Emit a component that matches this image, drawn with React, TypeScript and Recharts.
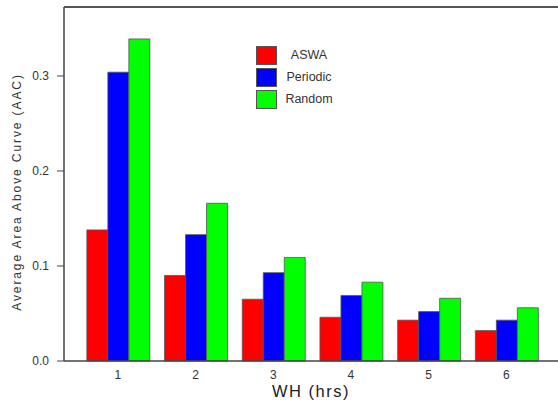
import { BarChart, Bar, XAxis, YAxis, ReferenceLine, Label } from "recharts";

const hours = ["1", "2", "3", "4", "5", "6"];
const aswa = [0.138, 0.09, 0.065, 0.046, 0.043, 0.032];
const periodic = [0.304, 0.133, 0.093, 0.069, 0.052, 0.043];
const random = [0.339, 0.166, 0.109, 0.083, 0.066, 0.056];
const yTicks = [0, 0.1, 0.2, 0.3];
const Y_MAX = 0.3726;

const series = [
  { key: "aswa", name: "ASWA", color: "#ff0000" },
  { key: "periodic", name: "Periodic", color: "#0000ff" },
  { key: "random", name: "Random", color: "#00ff00" },
];

const data = hours.map((h, i) => ({
  wh: h,
  aswa: aswa[i],
  periodic: periodic[i],
  random: random[i],
}));

const FONT = "'Liberation Sans', Arial, sans-serif";

// legend drawn as an overlay so it doesn't take space from the plot
function LegendBox() {
  return (
    <div style={{ position: "absolute", left: 256, top: 46, fontFamily: FONT }}>
      {series.map((s) => (
        <div key={s.key} style={{ display: "flex", alignItems: "center", height: 18, marginBottom: 4 }}>
          <span
            style={{
              display: "inline-block",
              width: 19,
              height: 17,
              background: s.color,
              border: "1px solid #555",
            }}
          />
          <span style={{ display: "inline-block", width: 64, textAlign: "center", fontSize: 12.5, color: "#333" }}>
            {s.name}
          </span>
        </div>
      ))}
    </div>
  );
}

export default function App() {
  return (
    <div style={{ position: "absolute", left: 0, top: 0, width: 558, height: 404, background: "#fff" }}>
      <BarChart
        width={558}
        height={404}
        data={data}
        margin={{ top: 7, right: 0, left: 0, bottom: 0 }}
        barGap={0}
        barCategoryGap={7.85}
      >
        <XAxis
          dataKey="wh"
          height={43}
          padding={{ left: 15, right: 12.8 }}
          tickLine={false}
          tickSize={0}
          tickMargin={9}
          axisLine={{ stroke: "#444", strokeWidth: 1.5 }}
          tick={{ fontSize: 12, fill: "#333", fontFamily: FONT }}
          label={{
            value: "WH (hrs)",
            position: "insideBottom",
            offset: 7,
            style: { fontSize: 16.5, letterSpacing: 1.5, fill: "#222", fontFamily: FONT },
          }}
        />
        <YAxis
          width={64}
          domain={[0, Y_MAX]}
          ticks={yTicks}
          tickFormatter={(v: number) => v.toFixed(1)}
          tickSize={7}
          tickMargin={8}
          tickLine={{ stroke: "#444" }}
          axisLine={{ stroke: "#444", strokeWidth: 1.5 }}
          tick={{ fontSize: 12, fill: "#333", fontFamily: FONT }}
        >
          <Label
            content={() => (
              <text
                x={21}
                y={192}
                transform="rotate(-90, 21, 192)"
                textAnchor="middle"
                fontSize={12}
                letterSpacing={1.9}
                fill="#333"
                fontFamily={FONT}
              >
                Average Area Above Curve (AAC)
              </text>
            )}
          />
        </YAxis>
        <ReferenceLine y={Y_MAX} stroke="#555" strokeWidth={2} />
        {series.map((s) => (
          <Bar
            key={s.key}
            dataKey={s.key}
            name={s.name}
            fill={s.color}
            stroke="#555"
            strokeWidth={0.8}
            isAnimationActive={false}
          />
        ))}
      </BarChart>
      <LegendBox />
    </div>
  );
}
